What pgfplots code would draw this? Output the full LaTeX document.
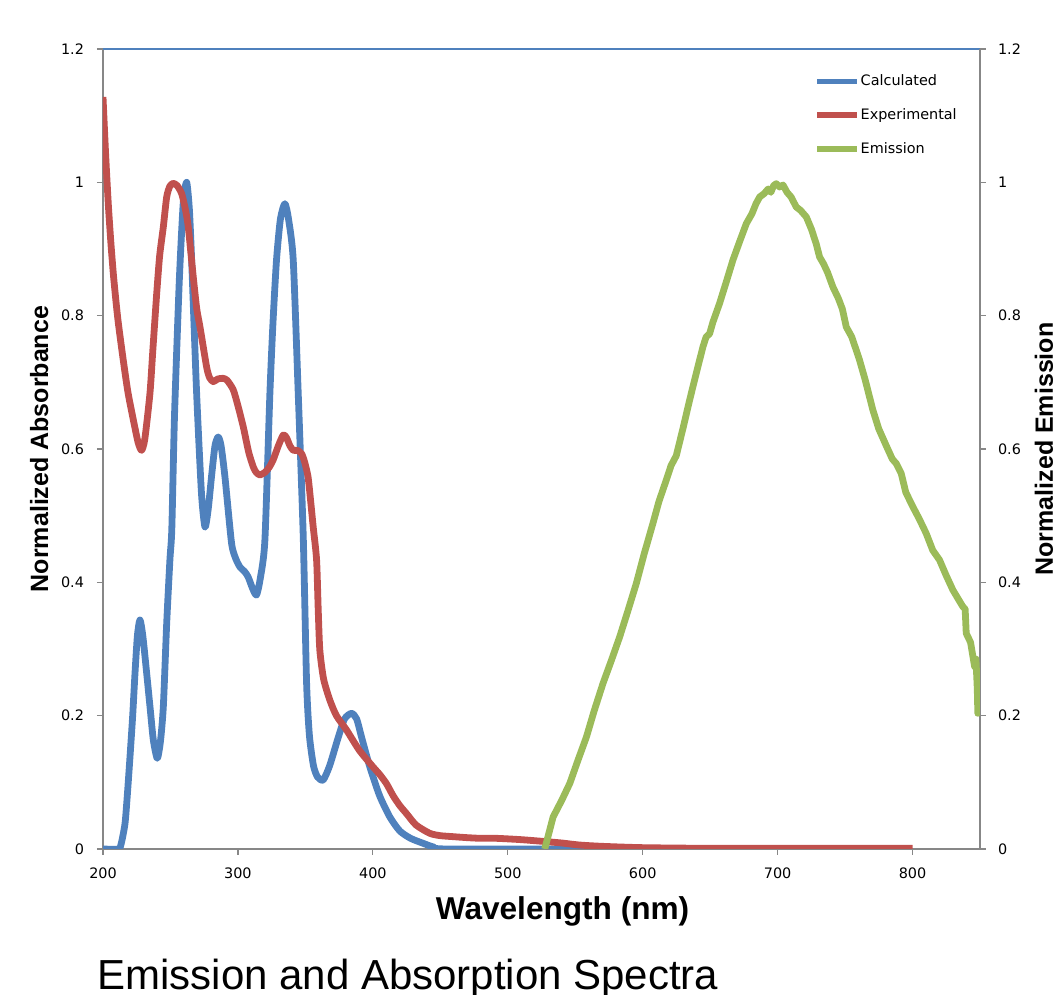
\documentclass[border=0pt]{standalone}
\usepackage{fontspec}
\usepackage{pgfplots}
\pgfplotsset{compat=1.18}
\newfontfamily\tickfont{DejaVu Sans}
\newfontfamily\labfont{Liberation Sans}
\definecolor{calc}{HTML}{4F81BD}
\definecolor{expt}{HTML}{C0504D}
\definecolor{emis}{HTML}{9BBB59}
\definecolor{axgray}{HTML}{878787}

\pgfplotsset{
  specbase/.style={
    width=438.5pt, height=400pt, scale only axis,
    at={(0,0)}, anchor=south west,
    xmin=200, xmax=850, ymin=0, ymax=1.2,
    ytick={0,0.2,0.4,0.6,0.8,1,1.2},
    tick align=outside, major tick length=3pt,
    tick style={axgray, line width=0.6pt},
    axis line style={axgray, line width=0.75pt},
    /pgf/number format/assume math mode=true,
    ticklabel style={font=\tickfont\fontsize{7.2}{8}\selectfont},
    ylabel style={font=\labfont\bfseries\fontsize{12.5}{15}\selectfont, anchor=base},
  },
  spec/.style={line width=3.4pt, line join=round},
}

\begin{document}
\begin{tikzpicture}
% primary axis: absorbance
\begin{axis}[specbase,
    axis x line*=bottom, axis y line*=left,
    xtick={200,300,400,500,600,700,800},
    xticklabel style={yshift=-3pt},
    yticklabel style={xshift=-3pt},
    xlabel={Wavelength (nm)},
    xlabel style={font=\labfont\bfseries\fontsize{15.8}{19}\selectfont, anchor=base,
      at={(axis description cs:0.524,-0.08875)}},
    ylabel={Normalized Absorbance},
    ylabel style={at={(axis description cs:-0.0627,0.5)}},
]
\addplot[spec, calc, smooth, tension=0.4] coordinates {
(200,0) (211.4,0) (213.5,0.008) (216.3,0.038) (218,0.08) (220,0.138) (222,0.2)
(223.7,0.263) (225.5,0.32) (227.4,0.3435) (229.5,0.32) (232.4,0.263) (235,0.21)
(237.3,0.1635) (240.2,0.136) (242.5,0.16) (244.7,0.213) (247.2,0.338) (249.6,0.434)
(251,0.48) (253,0.65) (256.5,0.85) (259.5,0.97) (262,1.0) (264,0.96) (265.7,0.8835)
(269.4,0.6835) (273,0.533) (275.6,0.483) (278,0.51) (280.4,0.558) (283,0.605)
(285.4,0.618) (287.5,0.605) (290.4,0.558) (295.3,0.4585) (298.5,0.435) (301.5,0.423)
(305,0.416) (307.6,0.408) (311,0.39) (313.8,0.381) (316.5,0.405) (320,0.4635)
(323.7,0.6835) (326,0.79) (328.6,0.8835) (331.5,0.945) (334.8,0.968) (337.5,0.945)
(341,0.8835) (344.7,0.6835) (348.4,0.47) (350.9,0.249) (353,0.17) (356,0.125)
(359,0.108) (363.2,0.1035) (368,0.125) (374,0.165) (379,0.195) (384.2,0.2035)
(388,0.195) (392,0.165) (397.8,0.123) (405,0.08) (412.6,0.048) (420,0.027)
(428,0.016) (437.3,0.0085) (445,0.003) (455,0) (560,0)
};
\addplot[spec, expt, smooth, tension=0.4] coordinates {
(200,1.128) (202,1.04) (204,0.965) (206,0.905) (208,0.855) (211,0.795) (215,0.7335)
(218.5,0.685) (222.5,0.6435) (226,0.61) (228.6,0.598) (231,0.615) (234.8,0.6835)
(237,0.75) (239.8,0.833) (242,0.89) (244.7,0.933) (247.2,0.978) (249.5,0.994)
(252,0.9985) (255,0.995) (258.3,0.983) (261,0.96) (263.2,0.933) (266.9,0.858)
(269.5,0.81) (271.9,0.783) (276.8,0.723) (279,0.707) (281.7,0.701) (285,0.705)
(289,0.706) (292,0.703) (296.5,0.689) (300,0.665) (304,0.633) (308,0.595)
(311.4,0.573) (313.5,0.565) (316.3,0.561) (320,0.565) (323,0.572) (326,0.583)
(330,0.605) (333.6,0.621) (336,0.617) (338.5,0.605) (341,0.598) (344,0.598)
(347.2,0.593) (349.5,0.58) (352,0.558) (354,0.52) (355.8,0.483) (358.3,0.434)
(359.5,0.36) (360.7,0.2985) (363.5,0.255) (368.1,0.2235) (373,0.2) (380.5,0.1785)
(390,0.148) (400.2,0.123) (405,0.112) (410.1,0.098) (415,0.08) (420,0.065)
(425,0.053) (432,0.036) (442.2,0.0235) (450,0.02) (459.5,0.0185) (470,0.017)
(480,0.016) (491.6,0.016) (510,0.014) (528.6,0.011) (540,0.009) (553,0.006)
(570,0.004) (600,0.002) (650,0.001) (700,0.001) (800,0.001)
};
\end{axis}
% secondary axis: emission
\begin{axis}[specbase,
    axis x line*=top, axis y line*=right,
    xtick=\empty,
    yticklabel style={xshift=2.5pt},
    x axis line style={calc, line width=0.75pt},
    ylabel={Normalized Emission},
    ylabel style={at={(axis description cs:1.0832,0.5)}},
    legend style={draw=none, fill=none, at={(rel axis cs:0.804,0.979)}, anchor=north west,
      font=\tickfont\fontsize{7.2}{8.6}\selectfont, row sep=6pt,
      nodes={inner xsep=0.5pt}},
    legend cell align=left,
    legend image code/.code={\draw[#1, line width=2.6pt] (0pt,0pt) -- (20pt,0pt);},
]
\addlegendimage{calc}
\addlegendentry{Calculated}
\addlegendimage{expt}
\addlegendentry{Experimental}
\addplot[spec, emis] coordinates {
(527.4,0) (530,0.02) (533.6,0.048) (540,0.073) (546,0.0985) (552,0.133) (558.3,0.168)
(564,0.207) (570.6,0.2485) (577,0.284) (583,0.3185) (589,0.357) (595.3,0.3985)
(601,0.442) (607.6,0.4885) (612,0.521) (617.5,0.5535) (621,0.575) (624.9,0.59)
(630,0.632) (634.8,0.6735) (640,0.716) (644.7,0.7535) (647,0.768) (649.6,0.773)
(652,0.79) (657,0.8185) (662,0.851) (666.9,0.8835) (672,0.912) (676.8,0.938)
(681,0.953) (684,0.968) (686.7,0.978) (690,0.983) (693,0.99) (695,0.985) (697,0.995)
(699,0.998) (701.5,0.993) (704,0.996) (707,0.985) (710,0.978) (713.8,0.963)
(717,0.958) (721.3,0.948) (725,0.93) (728.6,0.908) (731.1,0.888) (734,0.878)
(737,0.865) (741,0.843) (745,0.826) (748,0.81) (750.9,0.783) (755,0.768)
(760.7,0.7335) (765,0.703) (770.6,0.6585) (775,0.63) (780.5,0.605) (785,0.585)
(788,0.578) (791.6,0.5635) (795,0.535) (800.2,0.5135) (805,0.495) (810.1,0.4735)
(815,0.448) (820,0.4335) (825,0.41) (829.9,0.3885) (833,0.378) (837.3,0.3635)
(839,0.36) (839.8,0.3235) (843,0.31) (846,0.2735) (847,0.285) (848,0.24)
(848.4,0.2035) (849.5,0.26) (850,0.21)
};
\addlegendentry{Emission}
\end{axis}
\node[anchor=base west, inner sep=0pt, font=\labfont\fontsize{21}{25}\selectfont]
  at (-3pt,-70.5pt) {Emission and Absorption Spectra};
\pgfresetboundingbox
\useasboundingbox (-51.5pt,-73pt) rectangle (476pt,424.5pt);
\end{tikzpicture}
\end{document}
